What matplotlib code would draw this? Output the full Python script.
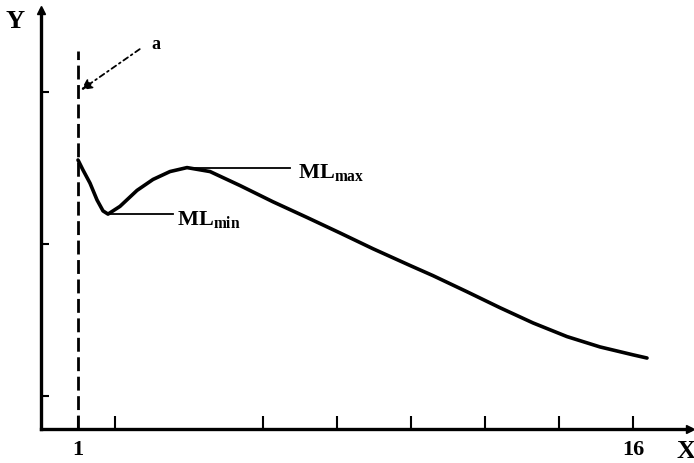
import matplotlib
matplotlib.use("Agg")
import matplotlib.pyplot as plt

# curve (x in tick units, y in arbitrary units)
curve_x = [1.0, 1.135, 1.324, 1.514, 1.676, 1.811, 2.135, 2.595, 3.027, 3.486,
           3.946, 4.568, 5.378, 6.270, 7.189, 8.081, 8.973, 9.973, 10.595,
           11.514, 12.405, 13.297, 14.216, 15.108, 16.0, 16.378]
curve_y = [2.550, 2.484, 2.398, 2.287, 2.215, 2.194, 2.245, 2.350, 2.422, 2.474,
           2.500, 2.474, 2.382, 2.275, 2.172, 2.070, 1.966, 1.856, 1.789,
           1.683, 1.578, 1.478, 1.388, 1.320, 1.268, 1.247]

x_ticks = [1, 2, 6, 8, 10, 12, 14, 16]
x_tick_labels = ["1", "", "", "", "", "", "", "16"]
y_ticks = [1, 2, 3]

ml_min = (1.811, 2.194)
ml_max = (3.946, 2.500)

plt.rcParams["font.family"] = ["Liberation Serif", "DejaVu Serif"]
plt.rcParams["font.weight"] = "bold"
plt.rcParams["mathtext.fontset"] = "custom"
plt.rcParams["mathtext.rm"] = "Liberation Serif:bold"
plt.rcParams["mathtext.bf"] = "Liberation Serif:bold"

fig = plt.figure(figsize=(6.94, 4.63), dpi=100)
ax = fig.add_axes([41 / 694, 34 / 463, 649 / 694, 419 / 463])
ax.set_xlim(0, 17.54)
ax.set_ylim(0.78, 3.537)

for s in ["top", "right"]:
    ax.spines[s].set_visible(False)
for s in ["left", "bottom"]:
    ax.spines[s].set_linewidth(2.4)

# axis arrows
ax.plot(1, 0.78, ">k", markersize=6, clip_on=False, transform=ax.get_yaxis_transform())
ax.plot(0, 1, "^k", markersize=6, clip_on=False, transform=ax.get_xaxis_transform())

ax.set_xticks(x_ticks)
ax.set_xticklabels(x_tick_labels, fontsize=16, fontweight="bold")
ax.set_yticks(y_ticks)
ax.set_yticklabels([])
ax.tick_params(axis="x", direction="in", length=9.5, width=1.5, pad=8)
ax.tick_params(axis="y", direction="in", length=6, width=1.5)

# dashed line at x = 1
ax.plot([1, 1], [0.78, 3.27], color="black", lw=2, linestyle=(0, (5, 2)))

# the curve
ax.plot(curve_x, curve_y, color="black", lw=2.6, solid_capstyle="round",
        solid_joinstyle="round")

# labels for min and max
ax.plot([ml_min[0], 3.57], [ml_min[1], ml_min[1]], color="black", lw=1.3)
ax.text(3.68, 2.122, r"$\mathrm{ML_{min}}$", fontsize=16, va="baseline", ha="left")
ax.plot([ml_max[0], 6.73], [ml_max[1], ml_max[1]], color="black", lw=1.3)
ax.text(6.95, 2.431, r"$\mathrm{ML_{max}}$", fontsize=16, va="baseline", ha="left")

# arrow "a"
ax.annotate("", xy=(1.02, 3.0), xytext=(2.73, 3.29),
            arrowprops=dict(arrowstyle="-|>", color="black", lw=1.3,
                            linestyle=(0, (3, 2, 1, 2)), mutation_scale=16))
ax.text(2.98, 3.31, "a", fontsize=13, va="center", ha="left")

# axis names
fig.text(15 / 694, 1 - 22 / 463, "Y", fontsize=19, ha="center", va="center")
fig.text(686 / 694, 1 - 451 / 463, "X", fontsize=19, ha="center", va="center")

fig.savefig("out.png", dpi=100)
